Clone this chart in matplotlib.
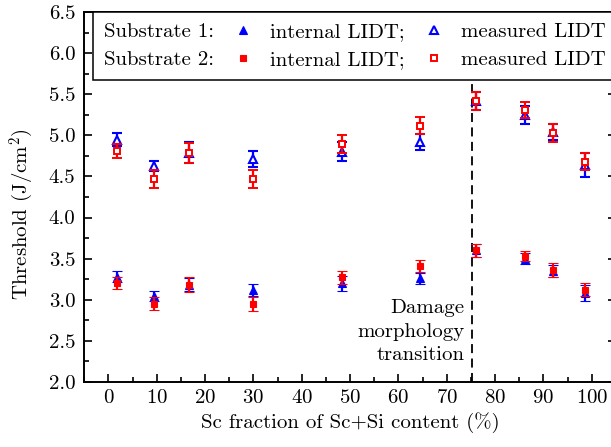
import matplotlib
matplotlib.use("Agg")
import matplotlib.pyplot as plt
from matplotlib.lines import Line2D
from matplotlib.ticker import MultipleLocator, FormatStrFormatter

plt.rcParams['font.family'] = ['cmr10', 'DejaVu Serif']
plt.rcParams['mathtext.fontset'] = 'cm'
plt.rcParams['axes.formatter.use_mathtext'] = True
plt.rcParams['font.size'] = 15

# ---- data ----
sc_fraction = [1.7, 9.5, 16.6, 29.8, 48.3, 64.5, 76.1, 86.1, 91.9, 98.5]

sub1_measured = [4.95, 4.63, 4.79, 4.71, 4.80, 4.92, 5.42, 5.25, 5.04, 4.64]
sub1_measured_err = [0.075, 0.06, 0.125, 0.10, 0.115, 0.10, 0.105, 0.105, 0.10, 0.15]
sub2_measured = [4.81, 4.47, 4.79, 4.47, 4.90, 5.12, 5.42, 5.31, 5.03, 4.68]
sub2_measured_err = [0.085, 0.107, 0.12, 0.107, 0.11, 0.10, 0.11, 0.10, 0.11, 0.10]

sub1_internal = [3.28, 3.04, 3.18, 3.12, 3.20, 3.26, 3.60, 3.50, 3.35, 3.08]
sub1_internal_err = [0.07, 0.06, 0.08, 0.075, 0.09, 0.07, 0.075, 0.07, 0.07, 0.10]
sub2_internal = [3.20, 2.95, 3.18, 2.95, 3.27, 3.41, 3.60, 3.53, 3.36, 3.12]
sub2_internal_err = [0.075, 0.08, 0.09, 0.085, 0.08, 0.07, 0.075, 0.065, 0.08, 0.08]

transition_x = 75.2
xticks = [0, 10, 20, 30, 40, 50, 60, 70, 80, 90, 100]
yticks = [2.0, 2.5, 3.0, 3.5, 4.0, 4.5, 5.0, 5.5, 6.0, 6.5]

BLUE = '#0000ff'
RED = '#ff0000'

fig = plt.figure(figsize=(6.11, 4.47), dpi=100)
ax = fig.add_axes([84.3 / 611, (447 - 381.7) / 447, (616 - 84.3) / 611, (381.7 - 12.3) / 447])

eb = dict(linestyle='none', capsize=3.6, elinewidth=1.6, capthick=1.6)

ax.axvline(transition_x, color='black', linestyle=(0, (5, 3)), linewidth=1.3, zorder=1)

TRI_MS = 6.0
SQ_FILLED_MS = 4.4
SQ_OPEN_MS = 4.3

# substrate 1 (blue)
ax.errorbar(sc_fraction, sub1_internal, yerr=sub1_internal_err, marker='^', ms=TRI_MS,
            mfc=BLUE, mec=BLUE, mew=0.8, color=BLUE, zorder=3, **eb)
ax.errorbar(sc_fraction, sub1_measured, yerr=sub1_measured_err, marker='^', ms=TRI_MS,
            mfc='white', mec=BLUE, mew=1.5, color=BLUE, zorder=3, **eb)
# substrate 2 (red)
ax.errorbar(sc_fraction, sub2_internal, yerr=sub2_internal_err, marker='s', ms=SQ_FILLED_MS,
            mfc=RED, mec=RED, mew=0.8, color=RED, zorder=4, **eb)
ax.errorbar(sc_fraction, sub2_measured, yerr=sub2_measured_err, marker='s', ms=SQ_OPEN_MS,
            mfc='white', mec=RED, mew=1.4, color=RED, zorder=4, **eb)

ax.set_xlim(-5, 105)
ax.set_ylim(2.0, 6.5)
ax.set_xticks(xticks)
ax.set_yticks(yticks)
ax.xaxis.set_minor_locator(MultipleLocator(5))
ax.yaxis.set_minor_locator(MultipleLocator(0.25))
ax.yaxis.set_major_formatter(FormatStrFormatter('%.1f'))
ax.tick_params(which='both', direction='in', top=True, right=True, width=1.2)
ax.tick_params(which='major', length=6)
ax.tick_params(which='minor', length=3.5)
ax.tick_params(axis='y', pad=6.5)
ax.tick_params(axis='x', pad=5)
for s in ax.spines.values():
    s.set_linewidth(1.4)

ax.set_xlabel('Sc fraction of Sc+Si content (%)', labelpad=4)
ax.set_ylabel('Threshold (J/cm$^2$)')
ax.yaxis.set_label_coords(-0.09, 0.455)

ax.text(73.7, 2.61, 'Damage\nmorphology\ntransition', ha='right', va='center',
        multialignment='right', linespacing=1.38)

# legend
blank = Line2D([], [], linestyle='none', marker='none')
h_int1 = Line2D([], [], linestyle='none', marker='^', ms=TRI_MS, mfc=BLUE, mec=BLUE, mew=0.8)
h_int2 = Line2D([], [], linestyle='none', marker='s', ms=SQ_FILLED_MS, mfc=RED, mec=RED, mew=0.8)
h_mea1 = Line2D([], [], linestyle='none', marker='^', ms=TRI_MS, mfc='white', mec=BLUE, mew=1.5)
h_mea2 = Line2D([], [], linestyle='none', marker='s', ms=SQ_OPEN_MS, mfc='white', mec=RED, mew=1.4)
handles = [blank, blank, h_int1, h_int2, h_mea1, h_mea2]
labels = ['Substrate 1:', 'Substrate 2:', 'internal LIDT;', 'internal LIDT;',
          'measured LIDT', 'measured LIDT']
leg = ax.legend(handles, labels, ncol=3, loc='upper right', bbox_to_anchor=(1, 1),
                borderaxespad=0, frameon=True, fancybox=False, edgecolor='black',
                framealpha=1, handlelength=1.0, handletextpad=0.8, columnspacing=0.9,
                borderpad=0.5, labelspacing=0.45)
leg.get_frame().set_linewidth(1.1)
leg.set_zorder(10)
try:
    first_col = leg._legend_handle_box.get_children()[0]
    for row in first_col.get_children():
        row.get_children()[0].width = 0
        row.sep = 0
except Exception:
    pass

fig.savefig('out.png', dpi=100)
